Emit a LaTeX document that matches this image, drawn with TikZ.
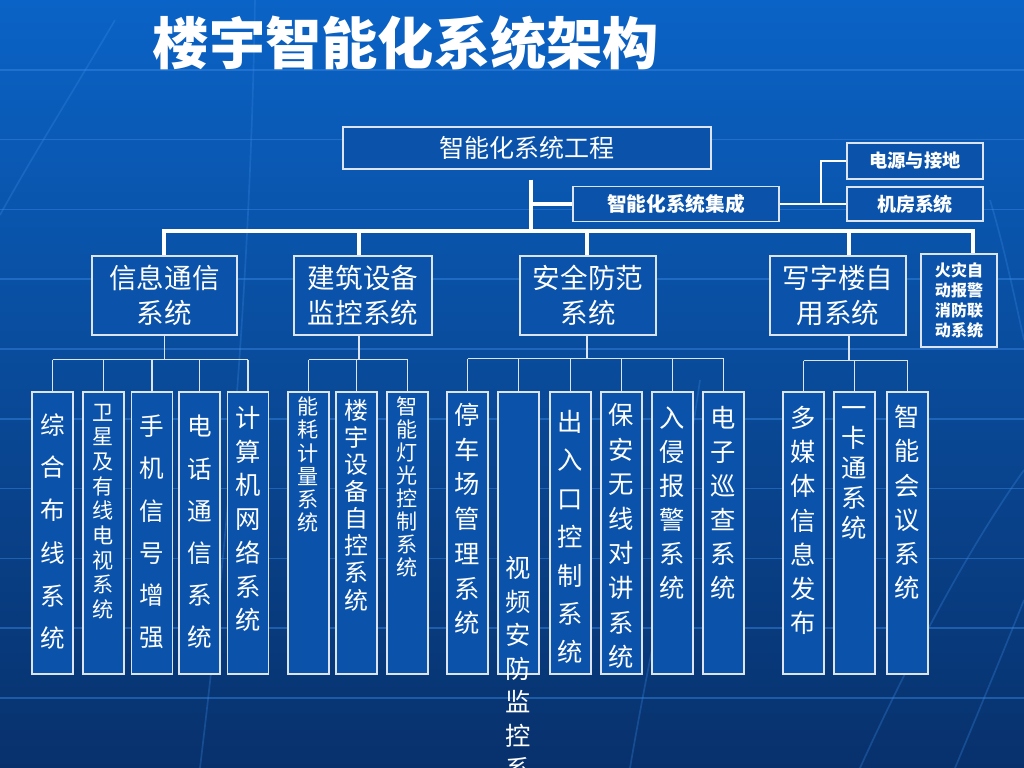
\documentclass[tikz,border=0pt]{standalone}
\usepackage{fontspec}
\usetikzlibrary{positioning,calc}
\newfontfamily\cjk{Noto Sans CJK SC}
\definecolor{bgtop}{HTML}{0A63C6}
\definecolor{bgmid}{HTML}{074FA4}
\definecolor{bgbot}{HTML}{08316C}
\definecolor{boxfill}{HTML}{0A52AA}
\definecolor{boxline}{HTML}{DCE4F0}
\definecolor{gridline}{HTML}{3A8AE6}

\begin{document}
\begin{tikzpicture}[
  x=0.025cm, y=-0.025cm,
  box/.style 2 args={
    rectangle,
    draw=boxline,
    fill=boxfill,
    line width=1pt,
    minimum width=#1*0.025cm,
    minimum height=#2*0.025cm,
    inner sep=0pt
  },
  txt/.style 2 args={text=white, align=center, inner sep=0pt,
    font=\cjk\fontsize{#1}{#2}\selectfont},
  btxt/.style 2 args={text=white, align=center, inner sep=0pt,
    font=\cjk\bfseries\fontsize{#1}{#2}\selectfont},
  title/.style={text=white, inner sep=0pt,
    font=\cjk\bfseries\fontsize{40}{40}\selectfont},
  bus/.style={white, line width=2.2pt},
  link/.style={white, line width=1.5pt},
  tree/.style={boxline, line width=1pt},
  gridln/.style={gridline, line width=1.2pt, opacity=0.45}
]

% --- background ---
\fill[top color=bgtop, middle color=bgmid, bottom color=bgbot] (0,0) rectangle (1024,768);
\useasboundingbox (0,0) rectangle (1024,768);
\clip (0,0) rectangle (1024,768);
\foreach \k in {1,...,10}
  \draw[gridln] (0,\k*69.8) -- (1024,\k*69.8);
\draw[gridln, opacity=0.3] (115,20) .. controls (80,80) and (30,160) .. (0,215);
\draw[gridln, opacity=0.3] (255,0) .. controls (250,300) and (225,560) .. (200,768);
\draw[gridln, opacity=0.3] (700,380) .. controls (680,520) and (650,650) .. (630,768);
\draw[gridln, opacity=0.3] (990,200) .. controls (1005,250) and (1015,300) .. (1024,340);
\draw[gridln, opacity=0.3] (1024,600) .. controls (1000,660) and (975,720) .. (955,768);
\draw[gridln, opacity=0.3] (1024,470) .. controls (960,560) and (900,680) .. (860,768);

% --- title ---
\node[title] (ttl) at (406,43) {楼宇智能化系统架构};

% --- top level ---
\node[box={368}{42}, txt={17.8}{20}] (top) at (527,148) {智能化系统工程};
\node[box={206}{35}, btxt={14}{16}] (integ) at (676,204) {智能化系统集成};
\node[box={136}{36}, btxt={13}{15}] (power) at (915,161) {电源与接地};
\node[box={136}{34}, btxt={13.5}{15}] (jifang) at (915,204) {机房系统};

% --- second level ---
\node[box={145}{79}, txt={19.6}{25}] (xinxi) at (164.5,295.5) {信息通信\\系统};
\node[box={138}{79}, txt={19.6}{25}] (jianzhu) at (363,295.5) {建筑设备\\监控系统};
\node[box={136}{79}, txt={19.6}{25}] (anfang) at (588,295.5) {安全防范\\系统};
\node[box={136}{79}, txt={19.6}{25}] (xiezi) at (838,295.5) {写字楼自\\用系统};
\node[box={76}{93}, btxt={11.4}{14.2}] (xiaofang) at (959,300.5) {火灾自\\动报警\\消防联\\动系统};

% --- third level ---
\foreach \i/\cx/\cy/\f/\b/\t in {
  1/52.5/531.5/17.5/30.4/{综\\合\\布\\线\\系\\统},
  2/103.5/511.5/15/17.5/{卫\\星\\及\\有\\线\\电\\视\\系\\统},
  3/152/532/17.5/30/{手\\机\\信\\号\\增\\强},
  4/199.5/532/17.5/30/{电\\话\\通\\信\\系\\统},
  5/248/519/18/24/{计\\算\\机\\网\\络\\系\\统},
  6/308.5/464.5/15/16.4/{能\\耗\\计\\量\\系\\统},
  7/356.5/505/17/19.3/{楼\\宇\\设\\备\\自\\控\\系\\统},
  8/407.5/487/15/16.3/{智\\能\\灯\\光\\控\\制\\系\\统},
  9/467.5/519/18/24.7/{停\\车\\场\\管\\理\\系\\统},
  10/518.5/668.5/18/23.8/{视\\频\\安\\防\\监\\控\\系},
  11/570.5/537/18/27.3/{出\\入\\口\\控\\制\\系\\统},
  12/621.5/536/18/24.6/{保\\安\\无\\线\\对\\讲\\系\\统},
  13/672.5/503/18/24.2/{入\\侵\\报\\警\\系\\统},
  14/723.5/503/18/24.2/{电\\子\\巡\\查\\系\\统},
  15/803.5/520.5/18/24.3/{多\\媒\\体\\信\\息\\发\\布},
  16/854.5/473/18/21.3/{一\\卡\\通\\系\\统},
  17/907.5/502.5/18/24.3/{智\\能\\会\\议\\系\\统}} {
  \node[box={41}{282}] (s\i) at (\cx,533) {};
  \node[txt={\f}{\b}] (t\i) at (\cx,\cy) {\t};
}

% --- main bus ---
\coordinate (jtop) at (531,231);
\coordinate (b1) at (164,231);
\coordinate (b2) at (359,231);
\coordinate (b3) at (587,231);
\coordinate (b4) at (849,231);
\coordinate (b5) at (973,231);
\draw[bus] ($(top.south)+(4,10)$) -- (jtop);
\draw[bus] (jtop |- integ.west) -- (integ.west);
\draw[bus] (b1 |- xinxi.north) -- (b1) -- (b5) -- (b5 |- xiaofang.north);
\foreach \j/\n in {2/jianzhu, 3/anfang, 4/xiezi}
  \draw[bus] (b\j) -- (b\j |- \n.north);

% --- integration side ---
\coordinate (jside) at (821,204);
\draw[link] (integ.east) -- (jifang.west);
\draw[link] (jside) |- (power.west);

% --- branches to third level ---
\draw[tree] (xinxi.south) -- ++(0,24) coordinate (h1);
\draw[tree] (s1.north |- h1) -- (s5.north |- h1);
\foreach \k in {1,...,5}
  \draw[tree] (s\k.north |- h1) -- (s\k.north);

\draw[tree] (b2 |- jianzhu.south) -- ++(0,24) coordinate (h2);
\draw[tree] (s6.north |- h2) -- (s8.north |- h2);
\foreach \k in {6,...,8}
  \draw[tree] (s\k.north |- h2) -- (s\k.north);

\draw[tree] (b3 |- anfang.south) -- ++(0,23) coordinate (h3);
\draw[tree] (s9.north |- h3) -- (s14.north |- h3);
\foreach \k in {9,...,14}
  \draw[tree] (s\k.north |- h3) -- (s\k.north);

\draw[tree] (b4 |- xiezi.south) -- ++(0,25) coordinate (h4);
\draw[tree] (s15.north |- h4) -- (s17.north |- h4);
\foreach \k in {15,...,17}
  \draw[tree] (s\k.north |- h4) -- (s\k.north);

\end{tikzpicture}
\end{document}
